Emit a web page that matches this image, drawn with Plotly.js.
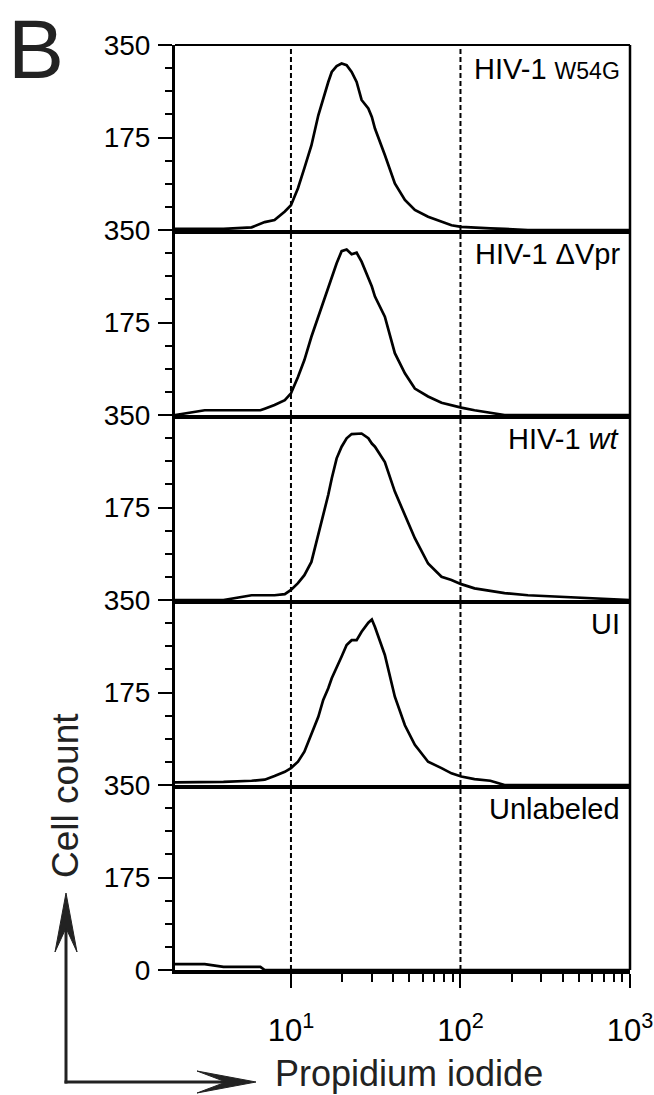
<!DOCTYPE html>
<html>
<head>
<meta charset="utf-8">
<script src="https://cdn.plot.ly/plotly-3.0.1.min.js"></script>
<style>
html,body{margin:0;padding:0;background:#fff;}
#chart{width:654px;height:1095px;}
</style>
</head>
<body>
<div id="chart"></div>
<script>
// Propidium iodide intensity (histogram channel positions)
const piIntensity = [2.07, 3.1, 4, 5.86, 6.6, 7, 8, 9.2, 10, 11, 12, 13.2, 14.5, 15.5, 16.6, 17.4, 18.6, 19.9, 21.3, 22.8, 24.4, 26.1, 28.6, 30, 31.3, 35.8, 41, 47, 53.8, 64.4, 77.3, 88.5, 101, 121, 150, 182, 250, 400, 1000];

// Cell counts per sample
const countW54G = [2, 2, 2, 5, 11, 15, 19, 35, 47, 79, 117, 160, 217, 249, 280, 299, 310, 315, 312, 299, 280, 246, 230, 214, 192, 142, 88, 57, 38, 25, 16, 9, 6, 4, 3, 2, 0, 0, 0];
const countDVpr = [0, 9, 9, 9, 9, 12, 19, 28, 41, 72, 104, 148, 186, 214, 243, 262, 287, 310, 313, 304, 307, 290, 261, 243, 224, 186, 117, 79, 50, 35, 23, 18, 14, 9, 4, 0, 0, 0, 0];
const countWT = [0, 0, 0, 9, 9, 9, 9, 11, 19, 32, 47, 72, 123, 161, 199, 230, 268, 290, 306, 314, 315, 315, 306, 296, 290, 261, 205, 161, 117, 69, 44, 38, 30, 22, 17, 13, 9, 6, 0];
const countUI = [5, 5, 6, 8, 9, 10, 17, 25, 32, 44, 63, 98, 129, 161, 183, 202, 224, 243, 265, 274, 274, 290, 307, 313, 299, 246, 167, 113, 76, 44, 32, 22, 16, 11, 8, 0, 0, 0, 0];
const countUnlabeled = [11, 11, 6, 6, 6, 0, 0, 0, 0, 0, 0, 0, 0, 0, 0, 0, 0, 0, 0, 0, 0, 0, 0, 0, 0, 0, 0, 0, 0, 0, 0, 0, 0, 0, 0, 0, 0, 0, 0];

const sampleLabels = ['HIV-1 <span style="font-size:23px">W54G</span>', 'HIV-1 \u0394Vpr', 'HIV-1 <i>wt</i>', 'UI', 'Unlabeled'];
const xTickVals = [10, 100, 1000];
const xTickText = ['10<sup>1</sup>', '10<sup>2</sup>', '10<sup>3</sup>'];
const xMinorVals = [20, 30, 40, 50, 60, 70, 80, 90, 200, 300, 400, 500, 600, 700, 800, 900];
const yTickVals = [175, 350];
const yTickValsBottom = [0, 175, 350];
const yMinorVals = [43.75, 87.5, 131.25, 218.75, 262.5, 306.25];
const gateLines = [10, 100];
const yMax = 350;
const xLabel = 'Propidium iodide';
const yLabel = 'Cell count';
const panelLetter = 'B';

const series = [countW54G, countDVpr, countWT, countUI, countUnlabeled];
const FONT = 'Liberation Sans, Arial, sans-serif';

// geometry (pixels of the 654x1095 page)
const M = {l: 175, r: 24, t: 45, b: 125};
const plotW = 654 - M.l - M.r, plotH = 1095 - M.t - M.b;
const PX = v => (v - M.l) / plotW;
const PY = v => (1095 - M.b - v) / plotH;

// axis ids: panel 0 (top) ... panel 4 (bottom)
const xIds = ['x2', 'x3', 'x4', 'x5', 'x'];
const yIds = ['y', 'y2', 'y3', 'y4', 'y5'];

const traces = [];
// dashed gate lines in every panel
series.forEach((s, i) => {
  const gx = [], gy = [];
  gateLines.forEach(g => { gx.push(g, g, null); gy.push(0, yMax, null); });
  traces.push({
    type: 'scatter', mode: 'lines', x: gx, y: gy,
    xaxis: xIds[i], yaxis: yIds[i],
    line: {color: '#000', width: 2, dash: '5px,3px'},
    hoverinfo: 'skip', showlegend: false
  });
});
series.forEach((s, i) => {
  traces.push({
    type: 'scatter', mode: 'lines',
    x: piIntensity, y: s,
    xaxis: xIds[i], yaxis: yIds[i],
    line: {color: '#000', width: 2.7, shape: 'linear'},
    hoverinfo: 'skip', showlegend: false
  });
});

const layout = {
  width: 654, height: 1095,
  margin: M,
  paper_bgcolor: '#fff', plot_bgcolor: '#fff',
  font: {family: FONT, color: '#000', size: 28},
  showlegend: false,
  shapes: [], annotations: []
};

const xRange = [Math.log10(piIntensity[0]), 3];
const n = series.length;
for (let i = 0; i < n; i++) {
  const d0 = (n - 1 - i) / n, d1 = (n - i) / n;
  const yk = i === 0 ? 'yaxis' : 'yaxis' + (i + 1);
  const bottom = i === n - 1;
  layout[yk] = {
    domain: [d0, d1], range: [0, yMax], anchor: xIds[i],
    tickmode: 'array', tickvals: bottom ? yTickValsBottom : yTickVals,
    ticks: 'outside', ticklen: 14, tickwidth: 2, tickcolor: '#000',
    minor: {tickmode: 'array', tickvals: yMinorVals, ticks: 'outside', ticklen: 7, tickwidth: 2, tickcolor: '#000', showgrid: false},
    showline: true, linewidth: 3, linecolor: '#000',
    showgrid: false, zeroline: false,
    tickfont: {family: FONT, size: 28, color: '#000'},
    ticklabelstandoff: 2,
    fixedrange: true
  };
  const xk = xIds[i] === 'x' ? 'xaxis' : 'xaxis' + xIds[i].slice(1);
  if (bottom) {
    layout[xk] = {
      type: 'log', range: xRange, anchor: yIds[i],
      tickmode: 'array', tickvals: xTickVals, ticktext: xTickText,
      ticks: 'outside', ticklen: 14, tickwidth: 2, tickcolor: '#000',
      minor: {tickmode: 'array', tickvals: xMinorVals, ticks: 'outside', ticklen: 8, tickwidth: 2, tickcolor: '#000', showgrid: false},
      showline: true, linewidth: 4, linecolor: '#000',
      showgrid: false, zeroline: false,
      tickfont: {family: FONT, size: 31, color: '#000'},
      ticklabelstandoff: 16,
      ticklabeloverflow: 'allow',
      fixedrange: true
    };
  } else {
    layout[xk] = {
      type: 'log', range: xRange, anchor: yIds[i], matches: 'x',
      showticklabels: false, ticks: '',
      showline: true, linewidth: 4, linecolor: '#000',
      showgrid: false, zeroline: false, fixedrange: true
    };
  }
  layout.annotations.push({
    xref: 'paper', yref: yIds[i] + ' domain',
    x: 0.982, y: 0.965, xanchor: 'right', yanchor: 'top',
    text: sampleLabels[i], showarrow: false,
    font: {family: FONT, size: 29, color: '#000'}
  });
}

// frame: top and right edges
layout.shapes.push({type: 'line', xref: 'paper', yref: 'paper', x0: 0, x1: 1, y0: 1, y1: 1, line: {color: '#000', width: 2}});
layout.shapes.push({type: 'line', xref: 'paper', yref: 'paper', x0: 1, x1: 1, y0: 0, y1: 1, line: {color: '#000', width: 2.5}});

// L-shaped axis arrows (decoration)
const corner = [66, 1082];
layout.shapes.push({type: 'line', xref: 'paper', yref: 'paper',
  x0: PX(corner[0]), y0: PY(corner[1] + 1.5), x1: PX(corner[0]), y1: PY(928), line: {color: '#222', width: 3}});
layout.shapes.push({type: 'line', xref: 'paper', yref: 'paper',
  x0: PX(corner[0] - 1.5), y0: PY(corner[1]), x1: PX(226), y1: PY(corner[1]), line: {color: '#222', width: 3}});
const headPath = pts => 'M' + pts.map(p => PX(p[0]) + ',' + PY(p[1])).join('L') + 'Z';
layout.shapes.push({type: 'path', xref: 'paper', yref: 'paper', fillcolor: '#222', line: {color: '#222', width: 1},
  path: headPath([[66, 893], [77, 952], [66, 928], [55, 952]])});
layout.shapes.push({type: 'path', xref: 'paper', yref: 'paper', fillcolor: '#222', line: {color: '#222', width: 1},
  path: headPath([[256, 1082], [197, 1093], [226, 1082], [197, 1071]])});

// axis titles
layout.annotations.push({
  xref: 'paper', yref: 'paper', x: PX(409), y: PY(1073), xanchor: 'center', yanchor: 'middle',
  text: xLabel, showarrow: false, font: {family: FONT, size: 36, color: '#222'}
});
layout.annotations.push({
  xref: 'paper', yref: 'paper', x: PX(65), y: PY(796), xanchor: 'center', yanchor: 'middle',
  text: yLabel, textangle: -90, showarrow: false, font: {family: FONT, size: 37, color: '#222'}
});
layout.annotations.push({
  xref: 'paper', yref: 'paper', x: PX(6), y: PY(0), xanchor: 'left', yanchor: 'top',
  text: panelLetter, showarrow: false, font: {family: FONT, size: 84, color: '#222'}
});

Plotly.newPlot('chart', traces, layout, {displayModeBar: false, staticPlot: true});
</script>
</body>
</html>
